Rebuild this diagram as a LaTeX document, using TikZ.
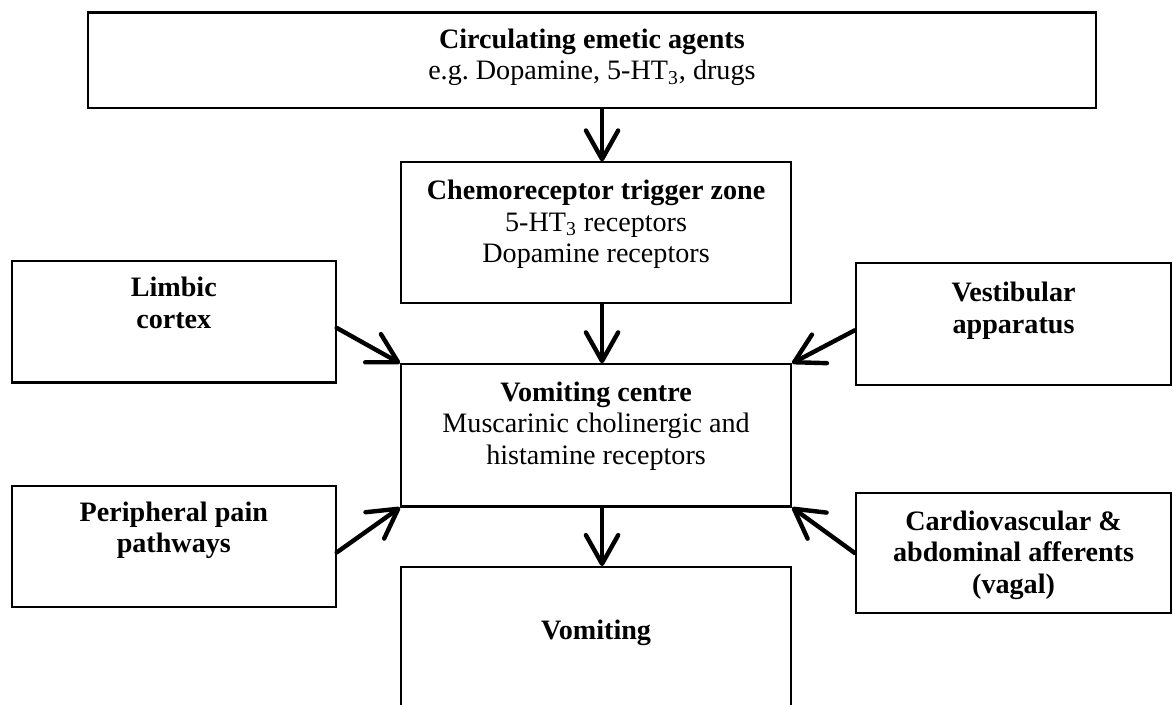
\documentclass[tikz,border=0pt]{standalone}
\usepackage{fontspec}
\setmainfont{Liberation Serif}
\usepackage{tikz}
\usetikzlibrary{arrows.meta, positioning}

\begin{document}
\begin{tikzpicture}[>={Straight Barb[length=4.8mm, width=5.4mm, round]},
    box/.style={draw=black, line width=1pt, inner sep=0pt},
    txt/.style={inner sep=0pt, align=center, font=\fontsize{13.4}{15}\selectfont},
    flow/.style={->, line width=2.1pt, line cap=round}]
    \useasboundingbox (0,0) rectangle (19.64,11.79);

    \node[box, minimum width=16.88cm, minimum height=1.60cm] (agents) at (9.91, 10.78) {};
    \node[txt, below=0.28cm of agents.north] {\textbf{Circulating emetic agents}\\e.g.\ Dopamine, 5-HT\textsubscript{3}, drugs};

    \node[box, minimum width=6.53cm, minimum height=2.36cm] (ctz) at (9.98, 7.89) {};
    \node[txt, below=0.31cm of ctz.north] {\textbf{Chemoreceptor trigger zone}\\5-HT\textsubscript{3} receptors\\Dopamine receptors};

    \node[box, minimum width=5.42cm, minimum height=2.03cm] (limbic) at (2.91, 6.40) {};
    \node[txt, below=0.28cm of limbic.north] {\textbf{Limbic}\\\textbf{cortex}};

    \node[box, minimum width=5.28cm, minimum height=2.04cm] (vest) at (16.97, 6.36) {};
    \node[txt, below=0.33cm of vest.north] {\textbf{Vestibular}\\\textbf{apparatus}};

    \node[box, minimum width=6.53cm, minimum height=2.38cm] (vc) at (9.98, 4.50) {};
    \node[txt, below=0.3cm of vc.north] {\textbf{Vomiting centre}\\Muscarinic cholinergic and\\histamine receptors};

    \node[box, minimum width=5.42cm, minimum height=2.03cm] (pain) at (2.91, 2.64) {};
    \node[txt, below=0.28cm of pain.north] {\textbf{Peripheral pain}\\\textbf{pathways}};

    \node[box, minimum width=5.28cm, minimum height=2.01cm] (cardio) at (16.97, 2.53) {};
    \node[txt, below=0.31cm of cardio.north] {\textbf{Cardiovascular \&}\\\textbf{abdominal afferents}\\\textbf{(vagal)}};

    \node[box, minimum width=6.53cm, minimum height=2.69cm] (vomit) at (9.98, 0.95) {};
    \node[txt, below=0.9cm of vomit.north] {\textbf{Vomiting}};

    \draw[flow] ([xshift=1mm]agents.south -| ctz.north) -- ([xshift=1mm]ctz.north);
    \draw[flow] ([xshift=1mm]ctz.south) -- ([xshift=1mm]vc.north);
    \draw[flow] ([xshift=1mm]vc.south) -- ([xshift=1mm]vomit.north);
    \draw[flow] ([yshift=-1mm]limbic.east) -- (vc.north west);
    \draw[flow] ([yshift=-1mm]pain.east) -- (vc.south west);
    \draw[flow] ([yshift=-1mm]vest.west) -- (vc.north east);
    \draw[flow] (cardio.west) -- (vc.south east);
  \end{tikzpicture}
\end{document}
